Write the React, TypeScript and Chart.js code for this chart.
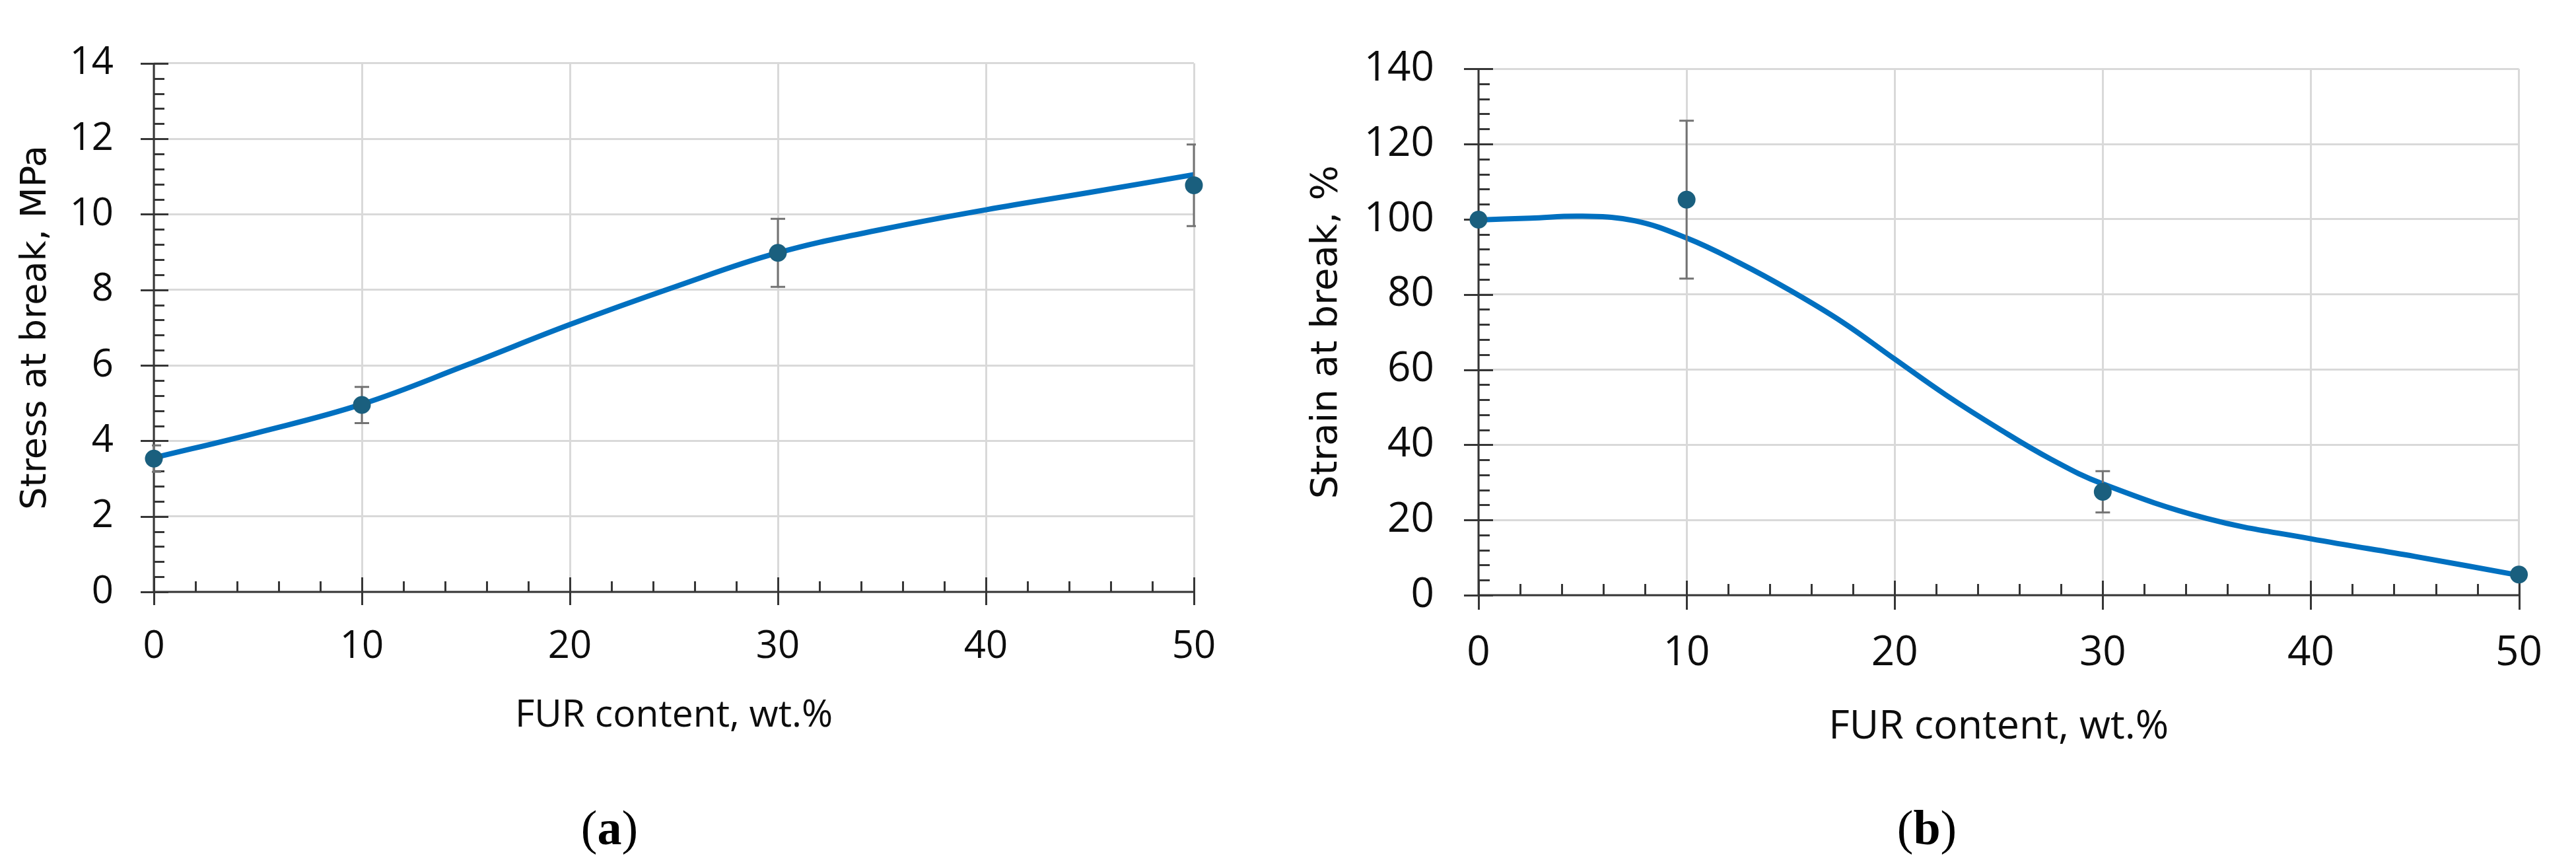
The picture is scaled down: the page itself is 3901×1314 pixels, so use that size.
import React, { useEffect, useRef } from "react";
import { Chart, registerables } from "chart.js";

Chart.register(...registerables);

// ---------- data ----------
const FUR_CONTENT = [0, 10, 30, 50];
const X_TICKS = [0, 10, 20, 30, 40, 50];

const STRESS = [3.53, 4.95, 8.98, 10.77];
const STRESS_ERR = [0.35, 0.48, 0.9, 1.08];
const STRESS_CURVE_X = [0, 5, 10, 15, 20, 25, 30, 35, 40, 45, 50];
const STRESS_CURVE_Y = [3.55, 4.22, 4.97, 6.0, 7.08, 8.07, 8.98, 9.6, 10.12, 10.58, 11.05];
const STRESS_TICKS = [0, 2, 4, 6, 8, 10, 12, 14];

const STRAIN = [99.9, 105.2, 27.5, 5.5];
const STRAIN_ERR = [0, 21, 5.5, 0];
const STRAIN_CURVE_X = [0, 2.5, 5, 7.5, 10, 12.5, 15, 17.5, 20, 22.5, 25, 27.5, 30, 35, 40, 45, 50];
const STRAIN_CURVE_Y = [99.8, 100.3, 100.8, 99.6, 95.0, 88.5, 81.0, 72.6, 62.8, 53.1, 44.3, 36.2, 29.6, 20.4, 15.0, 10.3, 5.3];
const STRAIN_TICKS = [0, 20, 40, 60, 80, 100, 120, 140];

// ---------- styles ----------
const LINE_COLOR = "#0070c0";
const MARKER_COLOR = "#1a5f7e";
const ERR_COLOR = "#737373";
const GRID_COLOR = "#d9d9d9";
const AXIS_COLOR = "#363636";
const TEXT_COLOR = "#0d0d0d";

type Panel = {
  key: string;
  left: number;
  width: number;
  padTop: number;
  padRight: number;
  yAxisW: number;
  xAxisH: number;
  y: number[];
  err: number[];
  cx: number[];
  cy: number[];
  yTicks: number[];
  yMinor: number;
  xMinor: number;
  tickFont: number;
  xTickPad: number;
  yTickPad: number;
  xTitle: string;
  yTitle: string;
  xTitleFont: number;
  xTitleOffset: number;
  yTitleFont: number;
  yTitleX: number;
  majorOut: number;
  majorIn: number;
  minorIn: number;
};

const PANELS: Panel[] = [
  {
    key: "a",
    left: 0,
    width: 1950,
    padTop: 63,
    padRight: 142,
    yAxisW: 233,
    xAxisH: 418,
    y: STRESS,
    err: STRESS_ERR,
    cx: STRESS_CURVE_X,
    cy: STRESS_CURVE_Y,
    yTicks: STRESS_TICKS,
    yMinor: 0.4,
    xMinor: 2,
    tickFont: 58,
    xTickPad: 49,
    yTickPad: 61,
    xTitle: "FUR content, wt.%",
    yTitle: "Stress at break, MPa",
    xTitleFont: 57,
    xTitleOffset: 204,
    yTitleFont: 54,
    yTitleX: 55,
    majorOut: 20,
    majorIn: 22,
    minorIn: 16,
  },
  {
    key: "b",
    left: 1950,
    width: 1951,
    padTop: 44,
    padRight: 53,
    yAxisW: 289,
    xAxisH: 413,
    y: STRAIN,
    err: STRAIN_ERR,
    cx: STRAIN_CURVE_X,
    cy: STRAIN_CURVE_Y,
    yTicks: STRAIN_TICKS,
    yMinor: 4,
    xMinor: 2,
    tickFont: 62,
    xTickPad: 51,
    yTickPad: 67,
    xTitle: "FUR content, wt.%",
    yTitle: "Strain at break, %",
    xTitleFont: 61,
    xTitleOffset: 217,
    yTitleFont: 56,
    yTitleX: 59,
    majorOut: 22,
    majorIn: 22,
    minorIn: 17,
  },
];

const excelPlugin = {
  id: "excel",
  beforeDatasetsDraw(chart: any, _args: any, opts: any) {
    const { ctx, chartArea, scales } = chart;
    const xs = scales.x;
    const ys = scales.y;
    const p: Panel = opts.panel;
    const eps = 1e-6;
    ctx.save();
    ctx.strokeStyle = AXIS_COLOR;
    ctx.lineWidth = 3;
    ctx.lineCap = "butt";
    ctx.beginPath();
    ctx.moveTo(chartArea.left, chartArea.top);
    ctx.lineTo(chartArea.left, chartArea.bottom);
    ctx.moveTo(chartArea.left, chartArea.bottom);
    ctx.lineTo(chartArea.right, chartArea.bottom);
    ctx.stroke();
    const yMajorStep = p.yTicks[1] - p.yTicks[0];
    for (let v = ys.min; v <= ys.max + eps; v += p.yMinor) {
      const py = Math.round(ys.getPixelForValue(v)) + 0.5;
      const isMajor = Math.abs(v / yMajorStep - Math.round(v / yMajorStep)) < 1e-4;
      ctx.beginPath();
      if (isMajor) {
        ctx.moveTo(chartArea.left - p.majorOut, py);
        ctx.lineTo(chartArea.left + p.majorIn, py);
      } else {
        ctx.moveTo(chartArea.left, py);
        ctx.lineTo(chartArea.left + p.minorIn, py);
      }
      ctx.stroke();
    }
    const xMajorStep = X_TICKS[1] - X_TICKS[0];
    for (let v = xs.min; v <= xs.max + eps; v += p.xMinor) {
      const px = Math.round(xs.getPixelForValue(v)) + 0.5;
      const isMajor = Math.abs(v / xMajorStep - Math.round(v / xMajorStep)) < 1e-4;
      ctx.beginPath();
      if (isMajor) {
        ctx.moveTo(px, chartArea.bottom - p.majorIn);
        ctx.lineTo(px, chartArea.bottom + p.majorOut);
      } else {
        ctx.moveTo(px, chartArea.bottom);
        ctx.lineTo(px, chartArea.bottom - p.minorIn);
      }
      ctx.stroke();
    }
    ctx.restore();
  },
  beforeDatasetDraw(chart: any, args: any, opts: any) {
    if (args.index !== 0) return;
    const { ctx, chartArea, scales } = chart;
    const xs = scales.x;
    const ys = scales.y;
    const p: Panel = opts.panel;
    ctx.save();
    ctx.beginPath();
    ctx.rect(chartArea.left - 3, chartArea.top - 3, chartArea.right - chartArea.left + 6, chartArea.bottom - chartArea.top + 6);
    ctx.clip();
    ctx.strokeStyle = ERR_COLOR;
    ctx.lineWidth = 3;
    const cap = 11;
    FUR_CONTENT.forEach((xv, i) => {
      const e = p.err[i];
      if (!e) return;
      const px = xs.getPixelForValue(xv);
      const top = ys.getPixelForValue(p.y[i] + e);
      const bot = ys.getPixelForValue(p.y[i] - e);
      ctx.beginPath();
      ctx.moveTo(px, top);
      ctx.lineTo(px, bot);
      ctx.moveTo(px - cap, top);
      ctx.lineTo(px + cap, top);
      ctx.moveTo(px - cap, bot);
      ctx.lineTo(px + cap, bot);
      ctx.stroke();
    });
    ctx.restore();
  },
  afterDraw(chart: any, _args: any, opts: any) {
    const { ctx, chartArea } = chart;
    const p: Panel = opts.panel;
    ctx.save();
    ctx.fillStyle = TEXT_COLOR;
    ctx.font = `${p.xTitleFont}px "Open Sans"`;
    ctx.textAlign = "center";
    ctx.textBaseline = "alphabetic";
    ctx.fillText(p.xTitle, (chartArea.left + chartArea.right) / 2, chartArea.bottom + p.xTitleOffset);
    ctx.translate(p.yTitleX, (chartArea.top + chartArea.bottom) / 2);
    ctx.rotate(-Math.PI / 2);
    ctx.font = `${p.yTitleFont}px "DejaVu Sans"`;
    ctx.textAlign = "center";
    ctx.textBaseline = "middle";
    ctx.fillText(p.yTitle, 0, 0);
    ctx.restore();
  },
};

function makeConfig(p: Panel): any {
  const tickFont = { family: "Open Sans", size: p.tickFont, lineHeight: 1.2 };
  return {
    type: "scatter",
    data: {
      datasets: [
        {
          label: "measured",
          data: FUR_CONTENT.map((x, i) => ({ x, y: p.y[i] })),
          showLine: false,
          pointRadius: 13.5,
          pointHoverRadius: 13.5,
          pointBackgroundColor: MARKER_COLOR,
          pointBorderColor: MARKER_COLOR,
          pointBorderWidth: 0,
          clip: false,
        },
        {
          label: "trend",
          data: p.cx.map((x, i) => ({ x, y: p.cy[i] })),
          showLine: true,
          borderColor: LINE_COLOR,
          borderWidth: 8,
          pointRadius: 0,
          pointHoverRadius: 0,
          tension: 0.4,
          borderCapStyle: "butt",
          clip: false,
        },
      ],
    },
    options: {
      animation: false,
      responsive: false,
      devicePixelRatio: 1,
      events: [],
      layout: { padding: { left: 0, top: p.padTop, right: p.padRight, bottom: 0 } },
      plugins: {
        legend: { display: false },
        tooltip: { enabled: false },
        title: { display: false },
        excel: { panel: p },
      },
      scales: {
        x: {
          type: "linear",
          min: 0,
          max: 50,
          afterBuildTicks: (s: any) => {
            s.ticks = X_TICKS.map((v) => ({ value: v }));
          },
          afterFit: (s: any) => {
            s.height = p.xAxisH;
          },
          ticks: { padding: p.xTickPad, font: tickFont, color: TEXT_COLOR, maxRotation: 0, autoSkip: false },
          grid: { color: GRID_COLOR, lineWidth: 3, drawTicks: false },
          border: { display: false },
        },
        y: {
          type: "linear",
          min: p.yTicks[0],
          max: p.yTicks[p.yTicks.length - 1],
          afterBuildTicks: (s: any) => {
            s.ticks = p.yTicks.map((v) => ({ value: v }));
          },
          afterFit: (s: any) => {
            s.width = p.yAxisW;
          },
          ticks: { padding: p.yTickPad, font: tickFont, color: TEXT_COLOR, autoSkip: false },
          grid: { color: GRID_COLOR, lineWidth: 3, drawTicks: false },
          border: { display: false },
        },
      },
    },
    plugins: [excelPlugin],
  };
}

function PanelChart({ p }: { p: Panel }) {
  const ref = useRef<HTMLCanvasElement | null>(null);
  useEffect(() => {
    if (!ref.current) return;
    const chart = new Chart(ref.current, makeConfig(p));
    return () => chart.destroy();
  }, [p]);
  return (
    <canvas
      ref={ref}
      width={p.width}
      height={1314}
      style={{ position: "absolute", left: p.left, top: 0, width: p.width, height: 1314, display: "block" }}
    />
  );
}

const CAPTIONS = [
  { letter: "a", x: 923 },
  { letter: "b", x: 2918 },
];

export default function App() {
  useEffect(() => {
    document.body.style.margin = "0";
    document.body.style.background = "#ffffff";
  }, []);
  return (
    <div style={{ position: "relative", width: 3901, height: 1314, overflow: "hidden", background: "#fff" }}>
      {PANELS.map((p) => (
        <PanelChart key={p.key} p={p} />
      ))}
      {CAPTIONS.map((c) => (
        <div
          key={c.letter}
          style={{
            position: "absolute",
            left: c.x,
            top: 1216,
            transform: "translateX(-50%)",
            fontFamily: '"Liberation Serif", serif',
            fontSize: 74,
            lineHeight: 1,
            color: "#000",
            whiteSpace: "nowrap",
          }}
        >
          (<b>{c.letter}</b>)
        </div>
      ))}
    </div>
  );
}
